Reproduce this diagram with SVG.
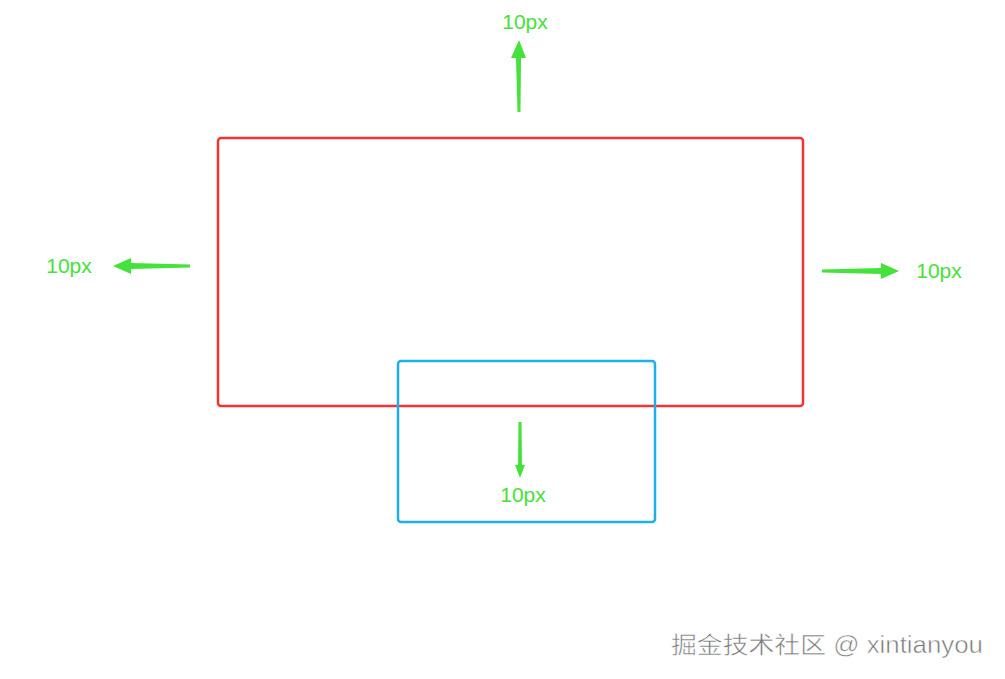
<svg xmlns="http://www.w3.org/2000/svg" width="1005" height="679" viewBox="0 0 1005 679">
<style>
.lbl{font-family:"Liberation Sans",Arial,sans-serif;font-size:21px;fill:#44e23a}
.arr{fill:#44e23a}
.wm{font-family:"Liberation Sans","Noto Sans CJK SC",sans-serif;font-size:23px;fill:#7a7a7a;stroke:#ffffff;stroke-width:0.5px}
</style>
<rect width="1005" height="679" fill="#ffffff"/>
<g id="outer"><rect x="218" y="138" width="585" height="268" rx="3" fill="none" stroke="#ee3535" stroke-width="2.5"/></g>
<g id="inner"><rect x="398" y="361" width="257" height="161" rx="3" fill="none" stroke="#1eaeea" stroke-width="2.5"/></g>
<g id="connectors">
<path class="arr" d="M517.5,112 L516,58 L511,58 L519,40 L526,58 L521,58 L520.5,112 Z"/>
<path class="arr" d="M190,264.5 L131,263 L131,258 L113,266 L131,274 L131,269 L190,267.5 Z"/>
<path class="arr" d="M822,269.5 L881,268 L881,263 L899,271 L881,279 L881,274 L822,272.5 Z"/>
<path class="arr" d="M518.5,422 L518,465 L515,465 L520,478 L525,465 L522,465 L521.5,422 Z"/>
</g>
<text class="lbl" x="525" y="29" text-anchor="middle">10px</text>
<text class="lbl" x="69" y="273" text-anchor="middle">10px</text>
<text class="lbl" x="939" y="278" text-anchor="middle">10px</text>
<text class="lbl" x="523" y="502" text-anchor="middle">10px</text>
<text class="wm" x="983" y="653" text-anchor="end" textLength="312" lengthAdjust="spacingAndGlyphs">掘金技术社区 @ xintianyou</text>
</svg>
